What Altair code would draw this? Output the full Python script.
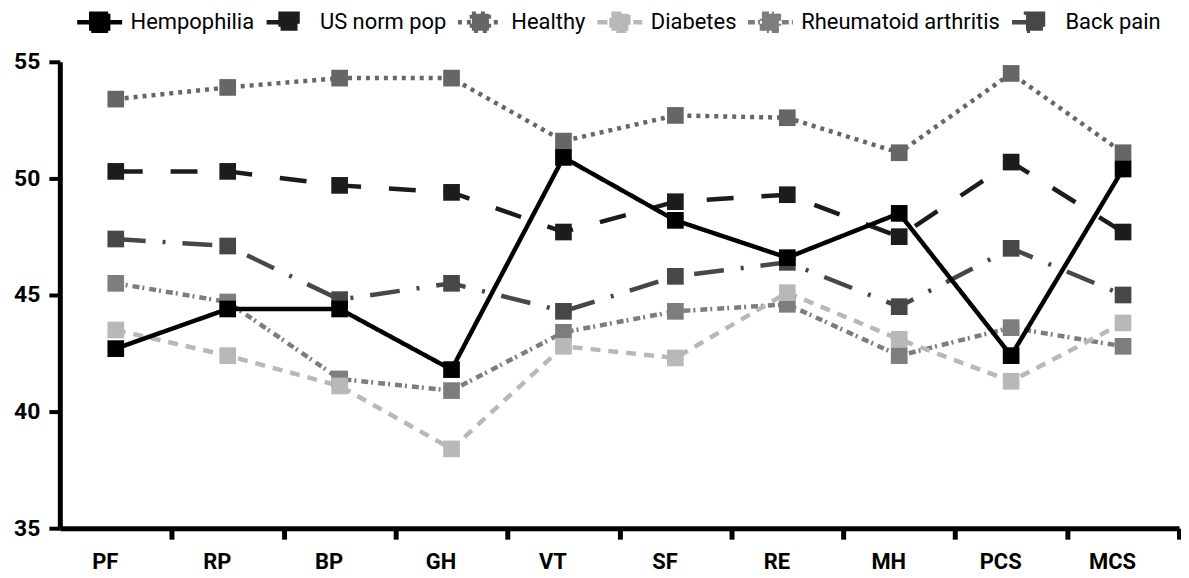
import altair as alt
import pandas as pd

categories = ["PF", "RP", "BP", "GH", "VT", "SF", "RE", "MH", "PCS", "MCS"]
series = ["Hempophilia", "US norm pop", "Healthy", "Diabetes", "Rheumatoid arthritis", "Back pain"]

hempophilia = [42.7, 44.4, 44.4, 41.8, 50.9, 48.2, 46.6, 48.5, 42.4, 50.4]
us_norm_pop = [50.3, 50.3, 49.7, 49.4, 47.7, 49.0, 49.3, 47.5, 50.7, 47.7]
healthy = [53.4, 53.9, 54.3, 54.3, 51.6, 52.7, 52.6, 51.1, 54.5, 51.1]
diabetes = [43.5, 42.4, 41.1, 38.4, 42.8, 42.3, 45.1, 43.1, 41.3, 43.8]
rheumatoid = [45.5, 44.7, 41.4, 40.9, 43.4, 44.3, 44.6, 42.4, 43.6, 42.8]
back_pain = [47.4, 47.1, 44.8, 45.5, 44.3, 45.8, 46.4, 44.5, 47.0, 45.0]

values = {
    "Hempophilia": hempophilia,
    "US norm pop": us_norm_pop,
    "Healthy": healthy,
    "Diabetes": diabetes,
    "Rheumatoid arthritis": rheumatoid,
    "Back pain": back_pain,
}

colors = ["#000000", "#1c1c1c", "#666666", "#b8b8b8", "#7d7d7d", "#474747"]
dashes = [[1, 0], [27, 28], [4, 5], [10, 8], [7, 3, 2, 5], [30, 17, 3, 17]]
widths = [4.5, 4.5, 4.5, 4, 3.5, 4]

rows = []
for s in reversed(series):
    for c, v in zip(categories, values[s]):
        rows.append({"measure": c, "score": v, "group": s})
df = pd.DataFrame(rows)

W, H = 1123, 468
step = W / len(categories)
FONT = "Roboto"

x = alt.X(
    "measure:N",
    sort=categories,
    scale=alt.Scale(type="point", padding=0.5),
    axis=alt.Axis(
        title=None, labelAngle=0, tickOffset=step / 2, labelOffset=-step / 2 - 11,
        labelFont=FONT, labelFontSize=22, labelFontWeight="bold", labelColor="#000",
        domainColor="#000", domainWidth=5, tickColor="#000", tickWidth=5, tickSize=11,
        labelPadding=12, grid=False,
    ),
)
y = alt.Y(
    "score:Q",
    scale=alt.Scale(domain=[35, 55], nice=False, zero=False),
    axis=alt.Axis(
        title=None, values=[35, 40, 45, 50, 55], grid=False,
        labelFont=FONT, labelFontSize=23, labelFontWeight="bold", labelColor="#000",
        domainColor="#000", domainWidth=5, tickColor="#000", tickWidth=4, tickSize=11,
        labelPadding=9,
    ),
)
color = alt.Color(
    "group:N",
    sort=series,
    scale=alt.Scale(domain=series, range=colors),
    legend=alt.Legend(
        title=None, orient="none", direction="horizontal", legendX=29, legendY=-51,
        columns=6, columnPadding=2, padding=0,
        labelFont=FONT, labelFontSize=22, labelColor="#000", labelOffset=20,
        labelLimit=400,
        symbolType="M-2.65,0H2.65M-1,-1H1V1H-1Z", symbolSize=289, symbolStrokeWidth=3,
        symbolOpacity=1,
    ),
)
dash = alt.StrokeDash("group:N", scale=alt.Scale(domain=series, range=dashes), legend=None)
sw = alt.StrokeWidth("group:N", scale=alt.Scale(domain=series, range=widths), legend=None)

lines = alt.Chart(df).mark_line(strokeCap="butt").encode(x=x, y=y, color=color, strokeDash=dash, strokeWidth=sw)
points = alt.Chart(df).mark_point(shape="square", filled=True, size=280, opacity=1).encode(x=x, y=y, color=color)

chart = (
    alt.layer(lines, points)
    .properties(width=W, height=H, autosize="none",
                padding={"left": 52, "top": 53, "right": 2, "bottom": 48})
    .configure_view(stroke=None)
)

chart.save("out.html", embed_options={"renderer": "svg", "actions": False})
